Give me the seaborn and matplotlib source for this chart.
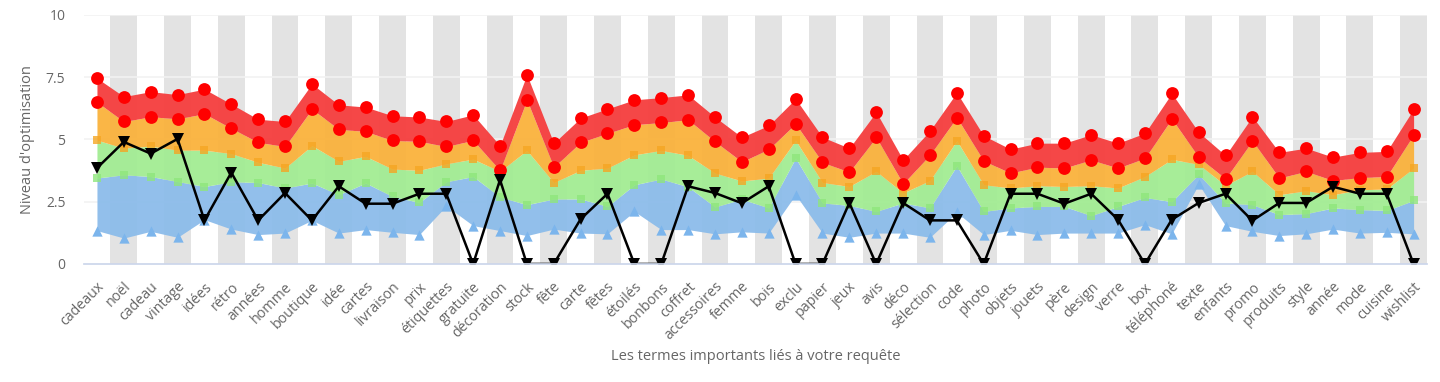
import numpy as np
import pandas as pd
import matplotlib
matplotlib.use('Agg')
import matplotlib.pyplot as plt
import seaborn as sns

# Terms shown on the x axis
categories = ["cadeaux", "noël", "cadeau", "vintage", "idées", "rétro", "années", "homme",
              "boutique", "idée", "cartes", "livraison", "prix", "étiquettes", "gratuite",
              "décoration", "stock", "fête", "carte", "fêtes", "étoilés", "bonbons", "coffret",
              "accessoires", "femme", "bois", "exclu", "papier", "jeux", "avis", "déco",
              "sélection", "code", "photo", "objets", "jouets", "père", "design", "verre", "box",
              "téléphoné", "texte", "enfants", "promo", "produits", "style", "année", "mode",
              "cuisine", "wishlist"]

# Band limits (bottom of blue -> top of red)
blue_low = [1.34, 1.04, 1.31, 1.07, 1.78, 1.40, 1.18, 1.24, 1.75, 1.24, 1.38, 1.27, 1.18, 2.33,
            1.54, 1.34, 1.14, 1.40, 1.24, 1.21, 2.11, 1.38, 1.38, 1.21, 1.29, 1.24, 2.78, 1.24,
            1.07, 1.24, 1.24, 1.07, 2.07, 1.18, 1.35, 1.18, 1.24, 1.24, 1.24, 1.58, 1.21, 3.20,
            1.54, 1.31, 1.14, 1.21, 1.40, 1.24, 1.27, 1.21]
green = [3.45, 3.58, 3.51, 3.31, 3.11, 3.30, 3.27, 3.05, 3.25, 2.78, 3.25, 2.71, 2.47, 3.30,
         3.51, 2.69, 2.38, 2.61, 2.61, 2.31, 3.18, 3.41, 3.10, 2.29, 2.60, 2.25, 4.25, 2.45,
         2.35, 2.11, 2.45, 2.25, 3.94, 2.11, 2.25, 2.31, 2.31, 1.94, 2.31, 2.67, 2.50, 3.60,
         2.45, 2.38, 1.98, 2.02, 2.25, 2.18, 2.15, 2.55]
orange = [4.97, 4.65, 4.73, 4.57, 4.57, 4.43, 4.08, 3.85, 4.75, 4.12, 4.32, 3.81, 3.76, 4.02,
          4.21, 3.72, 4.56, 3.27, 3.76, 3.85, 4.38, 4.56, 4.36, 3.65, 3.33, 3.45, 4.96, 3.27,
          3.11, 3.72, 2.85, 3.35, 4.95, 3.18, 3.05, 3.14, 3.11, 3.14, 3.05, 3.51, 4.20, 4.00,
          3.15, 3.72, 2.78, 2.94, 2.78, 2.98, 3.01, 3.85]
red_low = [6.50, 5.72, 5.91, 5.83, 6.03, 5.45, 4.88, 4.72, 6.22, 5.41, 5.32, 4.96, 4.92, 4.72,
           4.96, 3.76, 6.59, 3.89, 4.88, 5.25, 5.59, 5.68, 5.79, 4.92, 4.10, 4.61, 5.63, 4.08,
           3.69, 5.09, 3.22, 4.38, 5.88, 4.14, 3.65, 3.89, 3.85, 4.18, 3.85, 4.25, 5.83, 4.29,
           3.42, 4.95, 3.45, 3.72, 3.35, 3.47, 3.51, 5.19]
red_top = [7.46, 6.72, 6.92, 6.80, 7.02, 6.42, 5.81, 5.72, 7.23, 6.39, 6.30, 5.95, 5.90, 5.72,
           5.99, 4.75, 7.60, 4.85, 5.86, 6.23, 6.59, 6.68, 6.79, 5.90, 5.09, 5.56, 6.63, 5.09,
           4.65, 6.10, 4.18, 5.35, 6.88, 5.15, 4.61, 4.85, 4.85, 5.19, 4.85, 5.25, 6.85, 5.29,
           4.36, 5.92, 4.48, 4.65, 4.29, 4.48, 4.52, 6.22]
# Score of the page (black line)
score = [3.85, 4.90, 4.43, 5.02, 1.75, 3.67, 1.75, 2.85, 1.75, 3.12, 2.42, 2.42, 2.82, 2.82,
         0.0, 3.38, 0.0, 0.0, 1.80, 2.82, 0.0, 0.0, 3.12, 2.85, 2.44, 3.12, 0.0, 0.0, 2.45,
         0.0, 2.45, 1.75, 1.75, 0.0, 2.82, 2.82, 2.42, 2.82, 1.78, 0.0, 1.78, 2.45, 2.82, 1.74,
         2.45, 2.45, 3.10, 2.82, 2.82, 0.0]
y_ticks = [0, 2.5, 5, 7.5, 10]
y_tick_labels = ["0", "2.5", "5", "7.5", "10"]

df = pd.DataFrame({"term": categories, "blue": blue_low, "green": green, "orange": orange,
                   "red_low": red_low, "red_top": red_top, "score": score})
df["x"] = np.arange(len(df))

sns.set_theme(style="white")
plt.rcParams['font.family'] = ['Open Sans', 'DejaVu Sans']

fig = plt.figure(figsize=(14.4, 3.82), dpi=100)
ax = fig.add_axes([0.058, 0.309, 0.933, 0.652])

# alternating grey columns
for i in range(1, len(df), 2):
    ax.axvspan(i - 0.5, i + 0.5, color='#e3e3e3', lw=0, zorder=0)
for yv in y_ticks[1:]:
    ax.axhline(yv, color='#f2f2f2', lw=1.2, zorder=0.5)

x = df["x"]
ax.fill_between(x, df["blue"], df["green"], color='#8cbcea', alpha=0.95, lw=0, zorder=1)
ax.fill_between(x, df["green"], df["orange"], color='#a2ec93', alpha=0.95, lw=0, zorder=1)
ax.fill_between(x, df["orange"], df["red_low"], color='#fab23c', alpha=0.95, lw=0, zorder=1)
ax.fill_between(x, df["red_low"], df["red_top"], color='#f53d3d', alpha=0.95, lw=0, zorder=1)

sns.scatterplot(data=df, x="x", y="blue", marker='^', s=55, color='#7cb5ec', linewidth=0, ax=ax, zorder=2)
sns.scatterplot(data=df, x="x", y="green", marker='s', s=40, color='#8fe67c', alpha=0.8, linewidth=0, ax=ax, zorder=2)
sns.scatterplot(data=df, x="x", y="orange", marker='s', s=40, color='#f5a623', alpha=0.8, linewidth=0, ax=ax, zorder=2)
sns.scatterplot(data=df, x="x", y="red_low", marker='o', s=85, color='#ff0000', linewidth=0, ax=ax, zorder=3)
sns.scatterplot(data=df, x="x", y="red_top", marker='o', s=85, color='#ff0000', linewidth=0, ax=ax, zorder=3)
sns.lineplot(data=df, x="x", y="score", color='black', lw=1.8, marker='v', markersize=8,
             markeredgewidth=0, ax=ax, zorder=4)

ax.set_xlim(-0.5, len(df) - 0.5)
ax.set_ylim(0, 10)
ax.set_yticks(y_ticks)
ax.set_yticklabels(y_tick_labels, color='#666666', fontsize=10)
ax.set_xticks(x)
ax.set_xticklabels(df["term"], rotation=45, ha='right', rotation_mode='anchor',
                   color='#666666', fontsize=10.3)
ax.tick_params(axis='x', length=0, pad=11)
ax.tick_params(axis='y', length=0, pad=13)
# boundary tick marks below the axis
ax.set_xticks(np.arange(len(df) + 1) - 0.5, minor=True)
ax.tick_params(axis='x', which='minor', length=7, color='#ccd6eb', width=1)

for s in ['top', 'right', 'left']:
    ax.spines[s].set_visible(False)
ax.spines['bottom'].set_color('#ccd6eb')
ax.spines['bottom'].set_zorder(5)

ax.set_xlabel("Les termes importants liés à votre requête", color='#666666', fontsize=10.5, labelpad=4)
ax.set_ylabel("Niveau d'optimisation", color='#666666', fontsize=10.5, labelpad=8)

fig.savefig("out.png", dpi=100, facecolor='white')
